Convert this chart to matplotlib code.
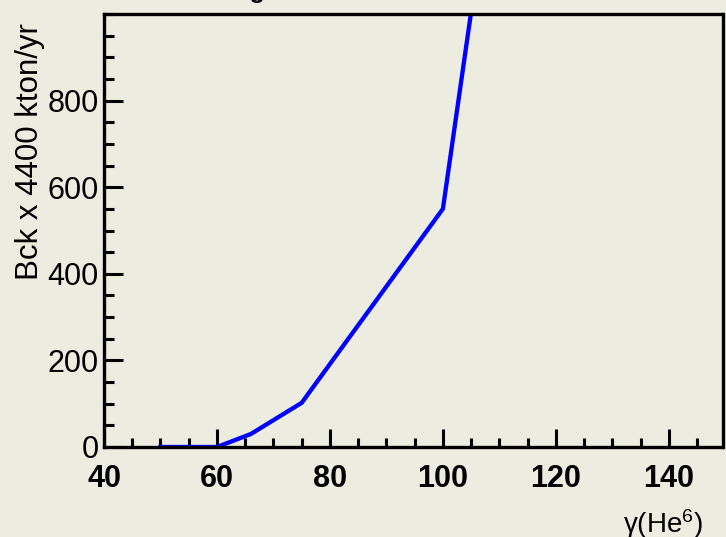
import matplotlib
matplotlib.use("Agg")
import matplotlib.pyplot as plt
from matplotlib.ticker import MultipleLocator

# boost gamma of He6 vs background rate
gamma = [50, 60, 66, 75, 100, 110]
bck = [0, 0, 30, 102, 550, 1460]

x_ticks = [40, 60, 80, 100, 120, 140]
y_ticks = [0, 200, 400, 600, 800]

BG = '#ECECE0'

plt.rcParams['font.family'] = ['Liberation Sans', 'DejaVu Sans']
plt.rcParams['mathtext.fontset'] = 'custom'
plt.rcParams['mathtext.rm'] = 'Liberation Sans'
plt.rcParams['mathtext.it'] = 'Liberation Sans:italic'

fig = plt.figure(figsize=(7.26, 5.37), dpi=100, facecolor=BG)
ax = fig.add_axes([104 / 726, 1 - 447 / 537, (722.5 - 104) / 726, (447 - 14) / 537])
ax.set_facecolor(BG)

ax.plot(gamma, bck, color='#0000FF', lw=3.1, solid_joinstyle='miter')

ax.set_xlim(40, 149.5)
ax.set_ylim(0, 1000)
ax.set_xticks(x_ticks)
ax.set_yticks(y_ticks)
ax.xaxis.set_minor_locator(MultipleLocator(5))
ax.yaxis.set_minor_locator(MultipleLocator(50))

ax.tick_params(which='both', direction='in', top=False, right=False, width=2.2, color='black')
ax.tick_params(axis='x', which='major', length=13, pad=12, labelsize=22)
ax.tick_params(axis='x', which='minor', length=6.5)
ax.tick_params(axis='y', which='major', length=14, pad=4, labelsize=22)
ax.tick_params(axis='y', which='minor', length=7)
for lab in ax.get_xticklabels():
    lab.set_fontweight('bold')
for s in ax.spines.values():
    s.set_linewidth(2.4)

ax.set_ylabel('Bck x 4400 kton/yr', fontsize=22.5, loc='top')
ax.yaxis.set_label_coords(-0.095, 0.98)
ax.set_xlabel(r'γ(He$^{6}$)', fontsize=20, loc='right')
ax.xaxis.set_label_coords(0.968, -0.138)

# title mostly outside the crop, only the descender is visible
fig.text(263 / 726, 1 + 2 / 537, 'Background', fontsize=18, fontweight='bold',
         ha='center', va='baseline')

fig.savefig('out.png', dpi=100, facecolor=BG)
